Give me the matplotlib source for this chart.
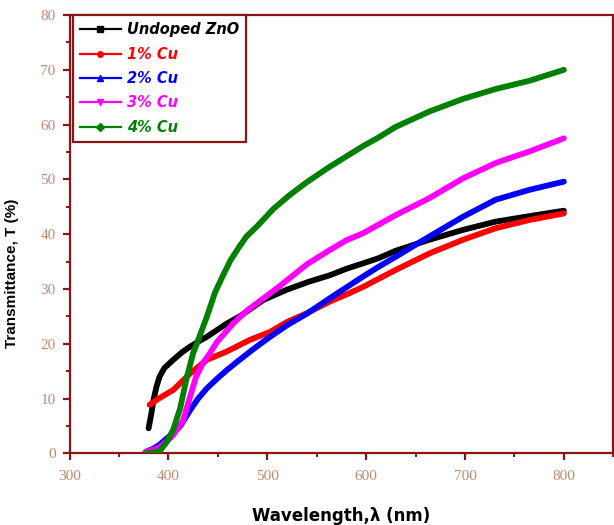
import matplotlib
matplotlib.use("Agg")
import matplotlib.pyplot as plt
from matplotlib.lines import Line2D
from matplotlib.ticker import MultipleLocator

# ---------------- data ----------------
series_names = ["Undoped ZnO", "1% Cu", "2% Cu", "3% Cu", "4% Cu"]

undoped_x = [380, 383, 385, 388, 391, 396, 405, 414, 422, 432, 439, 459, 472, 496, 520,
             543, 563, 580, 597, 612, 630, 664, 698, 731, 765, 800]
undoped_y = [4.6, 7.5, 9.8, 12.2, 14.0, 15.6, 17.1, 18.5, 19.5, 20.6, 21.3, 23.7, 25.0, 28.0,
             29.9, 31.4, 32.5, 33.7, 34.7, 35.6, 37.0, 39.0, 40.8, 42.3, 43.3, 44.3]

cu1_x = [381, 390, 405, 422, 439, 459, 482, 503, 520, 540, 563, 580, 597, 630, 664, 698,
         731, 765, 800]
cu1_y = [8.9, 10.0, 11.6, 14.6, 17.1, 18.6, 20.7, 22.2, 24.0, 25.6, 27.7, 29.0, 30.4, 33.5,
         36.5, 39.0, 41.1, 42.6, 43.8]

cu2_x = [377, 385, 391, 400, 405, 412, 422, 430, 439, 449, 459, 470, 482, 493, 503, 520, 540,
         563, 580, 597, 612, 630, 664, 698, 731, 765, 800]
cu2_y = [0.3, 0.9, 1.6, 3.0, 3.7, 5.0, 7.9, 10.0, 11.9, 13.6, 15.2, 16.8, 18.5, 20.0, 21.3,
         23.4, 25.5, 28.3, 30.3, 32.3, 34.0, 35.9, 39.6, 43.2, 46.3, 48.1, 49.6]

cu3_x = [377, 390, 400, 405, 410, 415, 422, 428, 435, 442, 449, 466, 479, 496, 513, 540,
         563, 580, 597, 630, 664, 698, 731, 765, 800]
cu3_y = [0.3, 1.0, 2.5, 3.4, 4.7, 6.1, 10.4, 14.0, 16.5, 18.3, 20.3, 23.8, 26.0, 28.3, 30.6,
         34.5, 37.1, 38.9, 40.2, 43.5, 46.6, 50.2, 53.0, 55.1, 57.5]

cu4_x = [377, 385, 391, 398, 405, 412, 418, 425, 432, 439, 447, 455, 463, 472, 479, 490,
         506, 523, 540, 563, 580, 597, 612, 630, 664, 698, 731, 765, 800]
cu4_y = [0.0, 0.2, 0.4, 2.0, 4.4, 8.3, 13.4, 18.3, 21.6, 25.0, 29.3, 32.4, 35.3, 37.8, 39.6,
         41.5, 44.6, 47.2, 49.5, 52.3, 54.2, 56.1, 57.6, 59.6, 62.4, 64.7, 66.5, 68.0, 70.0]

x_ticks = [300, 400, 500, 600, 700, 800]
y_ticks = [0, 10, 20, 30, 40, 50, 60, 70, 80]

# ---------------- styling ----------------
colors = ["#000000", "#FF0000", "#0000FF", "#FF00FF", "#008000"]
markers = ["s", "o", "^", "v", "D"]
frame_color = "#8B1515"
tick_label_color = "#C08A70"

fig = plt.figure(figsize=(6.14, 5.25), dpi=100)
ax = fig.add_axes([0.1132, 0.1362, 0.8857, 0.8352])

xs = [undoped_x, cu1_x, cu2_x, cu3_x, cu4_x]
ys = [undoped_y, cu1_y, cu2_y, cu3_y, cu4_y]
for i, (x, y) in enumerate(zip(xs, ys)):
    ax.plot(x, y, color=colors[i], lw=4.2, solid_capstyle="round",
            solid_joinstyle="round", zorder=2 + i)

ax.set_xlim(300, 850)
ax.set_ylim(0, 80)
ax.set_xticks(x_ticks)
ax.set_yticks(y_ticks)
ax.xaxis.set_minor_locator(MultipleLocator(50))
ax.yaxis.set_minor_locator(MultipleLocator(5))

for s in ax.spines.values():
    s.set_color(frame_color)
    s.set_linewidth(1.6)

ax.tick_params(axis="both", which="major", direction="out", length=5, width=1.6,
               color=frame_color, labelcolor=tick_label_color, labelsize=11)
ax.tick_params(axis="both", which="minor", direction="out", length=3, width=1.4,
               color=frame_color)
ax.tick_params(axis="x", which="major", pad=7)
ax.tick_params(axis="y", which="major", pad=5)
for lab in ax.get_xticklabels() + ax.get_yticklabels():
    lab.set_fontfamily("Liberation Serif")

ax.set_xlabel("Wavelength,λ (nm)", fontsize=12, fontweight="bold",
              fontfamily="DejaVu Sans")
ax.xaxis.set_label_coords(0.5, -0.122)
ax.set_ylabel("Transmittance, T (%)", fontsize=11, fontweight="bold",
              fontfamily="Liberation Sans")
ax.yaxis.set_label_coords(-0.093, 0.41)

handles = [Line2D([0], [0], color=colors[i], lw=1.6, marker=markers[i], markersize=4)
           for i in range(5)]
leg = ax.legend(handles, series_names, loc="upper left",
                bbox_to_anchor=(0.006, 1.0), borderaxespad=0.0,
                prop={"family": "DejaVu Sans", "weight": "bold", "style": "italic",
                      "size": 10.5},
                handlelength=2.8, handletextpad=0.4, labelspacing=0.64,
                borderpad=0.5, fancybox=False, framealpha=1.0)
leg.get_frame().set_edgecolor(frame_color)
leg.get_frame().set_linewidth(1.6)
for txt, c in zip(leg.get_texts(), colors):
    txt.set_color(c)

fig.savefig("out.png", dpi=100)
